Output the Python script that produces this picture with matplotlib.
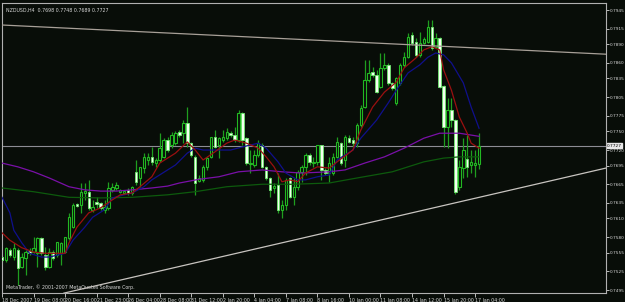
import numpy as np
import matplotlib
matplotlib.use("Agg")
import matplotlib.pyplot as plt
from matplotlib import font_manager

# NZDUSD H4 bars (open, high, low, close)
opens = [0.7548, 0.7543, 0.7559, 0.7548, 0.7559, 0.7532, 0.7546, 0.7558, 0.7556, 0.7554,
         0.7579, 0.7551, 0.7532, 0.7556, 0.7551, 0.7554, 0.7556, 0.7579, 0.7596, 0.7633,
         0.7632, 0.7651, 0.7653, 0.7624, 0.7636, 0.7635, 0.7624, 0.7627, 0.7656, 0.7659,
         0.7653, 0.7651, 0.7656, 0.7651, 0.7685, 0.7675, 0.7691, 0.7704, 0.7709, 0.7699,
         0.7704, 0.7709, 0.7736, 0.7728, 0.7731, 0.7749, 0.7747, 0.7763, 0.7731, 0.7709,
         0.7670, 0.7672, 0.7693, 0.7709, 0.7741, 0.7728, 0.7736, 0.7739, 0.7747, 0.7744,
         0.7736, 0.7780, 0.7739, 0.7698, 0.7696, 0.7712, 0.7728, 0.7693, 0.7675, 0.7659,
         0.7664, 0.7624, 0.7632, 0.7675, 0.7644, 0.7661, 0.7685, 0.7693, 0.7712, 0.7699,
         0.7701, 0.7728, 0.7688, 0.7683, 0.7683, 0.7709, 0.7731, 0.7704, 0.7739, 0.7736,
         0.7731, 0.7760, 0.7789, 0.7833, 0.7845, 0.7841, 0.7821, 0.7852, 0.7857, 0.7828,
         0.7796, 0.7828, 0.7857, 0.7869, 0.7905, 0.7894, 0.7873, 0.7892, 0.7894, 0.7918,
         0.7886, 0.7900, 0.7823, 0.7757, 0.7784, 0.7768, 0.7661, 0.7691, 0.7706, 0.7696,
         0.7696, 0.7698]
highs = [0.7551, 0.7564, 0.7563, 0.7571, 0.7563, 0.7554, 0.7559, 0.7563, 0.7580, 0.7580,
         0.7580, 0.7564, 0.7563, 0.7559, 0.7572, 0.7572, 0.7580, 0.7619, 0.7635, 0.7635,
         0.7667, 0.7667, 0.7672, 0.7640, 0.7644, 0.7636, 0.7640, 0.7669, 0.7667, 0.7669,
         0.7657, 0.7656, 0.7659, 0.7662, 0.7704, 0.7693, 0.7715, 0.7715, 0.7725, 0.7707,
         0.7747, 0.7739, 0.7741, 0.7749, 0.7751, 0.7752, 0.7768, 0.7789, 0.7733, 0.7712,
         0.7680, 0.7696, 0.7709, 0.7741, 0.7752, 0.7741, 0.7752, 0.7755, 0.7751, 0.7757,
         0.7784, 0.7781, 0.7741, 0.7720, 0.7720, 0.7736, 0.7731, 0.7694, 0.7677, 0.7667,
         0.7683, 0.7640, 0.7675, 0.7677, 0.7675, 0.7688, 0.7696, 0.7715, 0.7715, 0.7709,
         0.7728, 0.7728, 0.7691, 0.7709, 0.7715, 0.7741, 0.7733, 0.7744, 0.7744, 0.7741,
         0.7763, 0.7792, 0.7865, 0.7865, 0.7853, 0.7849, 0.7876, 0.7876, 0.7860, 0.7829,
         0.7837, 0.7860, 0.7878, 0.7908, 0.7910, 0.7900, 0.7910, 0.7902, 0.7929, 0.7929,
         0.7908, 0.7902, 0.7824, 0.7804, 0.7804, 0.7770, 0.7704, 0.7739, 0.7744, 0.7720,
         0.7720, 0.7748]
lows = [0.7540, 0.7540, 0.7548, 0.7543, 0.7503, 0.7530, 0.7519, 0.7551, 0.7554, 0.7532,
        0.7551, 0.7527, 0.7530, 0.7543, 0.7548, 0.7535, 0.7554, 0.7575, 0.7595, 0.7628,
        0.7619, 0.7640, 0.7624, 0.7620, 0.7627, 0.7624, 0.7619, 0.7624, 0.7653, 0.7656,
        0.7651, 0.7649, 0.7648, 0.7648, 0.7664, 0.7661, 0.7683, 0.7696, 0.7696, 0.7693,
        0.7701, 0.7707, 0.7717, 0.7723, 0.7728, 0.7741, 0.7731, 0.7725, 0.7709, 0.7648,
        0.7669, 0.7669, 0.7688, 0.7707, 0.7723, 0.7707, 0.7733, 0.7736, 0.7741, 0.7733,
        0.7733, 0.7728, 0.7696, 0.7683, 0.7693, 0.7709, 0.7691, 0.7672, 0.7644, 0.7651,
        0.7619, 0.7611, 0.7624, 0.7643, 0.7632, 0.7656, 0.7669, 0.7680, 0.7696, 0.7693,
        0.7696, 0.7672, 0.7680, 0.7669, 0.7680, 0.7707, 0.7696, 0.7693, 0.7731, 0.7725,
        0.7725, 0.7757, 0.7788, 0.7829, 0.7837, 0.7812, 0.7820, 0.7849, 0.7824, 0.7816,
        0.7792, 0.7824, 0.7853, 0.7868, 0.7889, 0.7869, 0.7869, 0.7890, 0.7892, 0.7881,
        0.7884, 0.7820, 0.7725, 0.7723, 0.7757, 0.7649, 0.7656, 0.7675, 0.7677, 0.7683,
        0.7677, 0.7689]
closes = [0.7543, 0.7563, 0.7551, 0.7563, 0.7530, 0.7548, 0.7556, 0.7554, 0.7563, 0.7579,
          0.7554, 0.7532, 0.7556, 0.7546, 0.7572, 0.7571, 0.7580, 0.7612, 0.7632, 0.7630,
          0.7653, 0.7654, 0.7627, 0.7628, 0.7633, 0.7627, 0.7628, 0.7659, 0.7661, 0.7664,
          0.7656, 0.7654, 0.7651, 0.7661, 0.7669, 0.7693, 0.7709, 0.7709, 0.7701, 0.7704,
          0.7723, 0.7736, 0.7720, 0.7744, 0.7747, 0.7744, 0.7763, 0.7731, 0.7712, 0.7667,
          0.7675, 0.7693, 0.7707, 0.7741, 0.7725, 0.7739, 0.7741, 0.7749, 0.7744, 0.7736,
          0.7780, 0.7736, 0.7699, 0.7699, 0.7712, 0.7731, 0.7693, 0.7675, 0.7656, 0.7662,
          0.7624, 0.7632, 0.7672, 0.7644, 0.7661, 0.7685, 0.7693, 0.7712, 0.7701, 0.7701,
          0.7728, 0.7688, 0.7683, 0.7699, 0.7709, 0.7733, 0.7699, 0.7741, 0.7733, 0.7731,
          0.7760, 0.7788, 0.7833, 0.7844, 0.7841, 0.7813, 0.7852, 0.7857, 0.7828, 0.7820,
          0.7836, 0.7857, 0.7869, 0.7902, 0.7892, 0.7873, 0.7892, 0.7898, 0.7918, 0.7884,
          0.7900, 0.7821, 0.7757, 0.7784, 0.7768, 0.7653, 0.7693, 0.7720, 0.7693, 0.7701,
          0.7699, 0.7727]

# moving averages, sampled at (bar, price)
red_bar = [0, 2, 5, 8, 11, 13, 16, 17, 19, 22, 25, 28, 30, 33, 35, 38, 40, 44, 47, 49, 51,
           54, 57, 59, 62, 65, 67, 69, 71, 73, 75, 77, 80, 83, 85, 89, 91, 94, 97, 100, 102,
           105, 107, 109, 111, 112, 114, 116, 118, 119, 121]
red_ma = [0.7587, 0.7575, 0.7563, 0.7556, 0.7554, 0.7554, 0.7554, 0.7571, 0.7596, 0.7619,
          0.7627, 0.7640, 0.7648, 0.7651, 0.7661, 0.7677, 0.7699, 0.7715, 0.7733, 0.7720,
          0.7704, 0.7717, 0.7731, 0.7736, 0.7731, 0.7723, 0.7709, 0.7693, 0.7669, 0.7672,
          0.7669, 0.7683, 0.7693, 0.7691, 0.7701, 0.7720, 0.7752, 0.7789, 0.7813, 0.7829,
          0.7852, 0.7868, 0.7881, 0.7886, 0.7881, 0.7849, 0.7816, 0.7773, 0.7747, 0.7731,
          0.7723]
blue_bar = [0, 2, 3, 5, 7, 10, 12, 16, 18, 21, 23, 26, 28, 31, 33, 36, 38, 42, 44, 47, 49,
            51, 55, 58, 61, 65, 67, 70, 72, 75, 77, 80, 83, 85, 89, 91, 95, 98, 100, 103,
            106, 108, 110, 112, 114, 117, 119, 121]
blue_ma = [0.7644, 0.7619, 0.7591, 0.7571, 0.7554, 0.7548, 0.7548, 0.7554, 0.7575, 0.7596,
           0.7612, 0.7624, 0.7643, 0.7648, 0.7651, 0.7661, 0.7672, 0.7688, 0.7696, 0.7715,
           0.7723, 0.7720, 0.7720, 0.7720, 0.7725, 0.7731, 0.7723, 0.7701, 0.7683, 0.7672,
           0.7672, 0.7677, 0.7680, 0.7704, 0.7720, 0.7739, 0.7768, 0.7796, 0.7816, 0.7844,
           0.7857, 0.7869, 0.7876, 0.7873, 0.7860, 0.7828, 0.7789, 0.7755]
purple_bar = [0, 4, 8, 12, 17, 21, 25, 29, 33, 38, 42, 45, 50, 55, 60, 66, 71, 76, 83, 87,
              92, 97, 102, 107, 111, 116, 121]
purple_ma = [0.7699, 0.7693, 0.7685, 0.7675, 0.7661, 0.7656, 0.7654, 0.7654, 0.7656, 0.7659,
             0.7662, 0.7667, 0.7673, 0.7677, 0.7685, 0.7688, 0.7685, 0.7683, 0.7685, 0.7688,
             0.7699, 0.7709, 0.7723, 0.7739, 0.7747, 0.7747, 0.7742]
green_bar = [0, 8, 17, 25, 33, 42, 49, 57, 66, 74, 83, 90, 99, 107, 112, 116, 121]
green_ma = [0.7659, 0.7653, 0.7644, 0.7643, 0.7644, 0.7648, 0.7653, 0.7661, 0.7665, 0.7665,
            0.7667, 0.7675, 0.7685, 0.7701, 0.7707, 0.7709, 0.7709]

# hand-drawn trend lines: (bar, price) end points
upper_line_bar = [-0.25, 153.2]
upper_line_price = [0.7921, 0.7874]
lower_line_bar = [15.7, 153.2]
lower_line_price = [0.7490, 0.7691]
bid = 0.7727

x_tick_bars = list(range(0, 121, 8))
x_tick_labels = ["18 Dec 2007", "19 Dec 08:00", "20 Dec 16:00", "21 Dec 23:00",
                 "26 Dec 04:00", "28 Dec 08:00", "31 Dec 12:00", "2 Jan 20:00",
                 "4 Jan 04:00", "7 Jan 08:00", "8 Jan 16:00", "10 Jan 00:00",
                 "11 Jan 08:00", "14 Jan 12:00", "15 Jan 20:00", "17 Jan 04:00"]
y_ticks = [0.7945, 0.7915, 0.7890, 0.7860, 0.7835, 0.7805, 0.7775, 0.7750, 0.7720,
           0.7695, 0.7665, 0.7635, 0.7610, 0.7580, 0.7555, 0.7525, 0.7495]

BG = "#080d08"
FG = "#d8d8d8"
WICK = "#1f9e1f"

names = {f.name for f in font_manager.fontManager.ttflist}
narrow = "Liberation Sans Narrow" if "Liberation Sans Narrow" in names else "DejaVu Sans"
plt.rcParams["font.family"] = [narrow, "DejaVu Sans"]
FS = 4.3 if narrow != "DejaVu Sans" else 3.4
FSY = 3.9 if narrow != "DejaVu Sans" else 3.1

fig = plt.figure(figsize=(6.25, 3.02), dpi=100, facecolor=BG)
ax = fig.add_axes([2 / 625, 9 / 302, 604 / 625, 290 / 302], facecolor=BG)

o = np.array(opens)
h = np.array(highs)
l = np.array(lows)
c = np.array(closes)
idx = np.arange(len(o))
bull = c >= o

ax.vlines(idx, l, h, color=WICK, lw=0.9, zorder=2)
body_lo = np.minimum(o, c)
body_h = np.maximum(np.abs(c - o), 0.00003)
ax.bar(idx[bull], body_h[bull], bottom=body_lo[bull], width=0.62,
       color=BG, edgecolor="#22b822", linewidth=0.8, zorder=3)
ax.bar(idx[~bull], body_h[~bull], bottom=body_lo[~bull], width=0.62,
       color="#f4fff0", edgecolor="#6ee86e", linewidth=0.6, zorder=3)

ax.plot(green_bar, green_ma, color="#0d5a0d", lw=0.9, zorder=4)
ax.plot(purple_bar, purple_ma, color="#7a10a8", lw=0.9, zorder=4)
ax.plot(blue_bar, blue_ma, color="#10108c", lw=0.9, zorder=4)
ax.plot(red_bar, red_ma, color="#9a1010", lw=0.9, zorder=4)

ax.plot(upper_line_bar, upper_line_price, color="#a8a098", lw=0.9, zorder=5)
ax.plot(lower_line_bar, lower_line_price, color="#c8c4c0", lw=0.9, zorder=5)
ax.axhline(bid, color="#8c8c94", lw=0.8, zorder=1)

ax.set_xlim(0.25, 153.2)
ax.set_ylim(0.74902, 0.79563)

for side in ["left", "right", "top", "bottom"]:
    ax.spines[side].set_color("#b0b0b0")
    ax.spines[side].set_linewidth(0.8)

ax.yaxis.tick_right()
ax.set_yticks(y_ticks)
ax.set_yticklabels([f"{v:.4f}" for v in y_ticks])
ax.set_xticks(x_tick_bars)
ax.set_xticklabels(x_tick_labels, ha="left")
ax.tick_params(axis="y", colors=FG, labelsize=FSY, length=2, width=0.6, pad=0.8)
ax.tick_params(axis="x", colors=FG, labelsize=FS, length=3, width=0.6, pad=0.3)
ax.text(153.45, bid, "0.7727", fontsize=FSY, color="black", va="center", ha="left",
        clip_on=False, bbox=dict(facecolor="#e8e8e8", edgecolor="#e8e8e8", pad=0.3))

ax.text(0.006, 0.985, "NZDUSD,H4  0.7698 0.7748 0.7689 0.7727", transform=ax.transAxes,
        fontsize=FS, color=FG, va="top", ha="left")
ax.text(0.006, 0.012, "MetaTrader, \u00a9 2001-2007 MetaQuotes Software Corp.",
        transform=ax.transAxes, fontsize=FS, color=FG, va="bottom", ha="left")

fig.savefig("out.png", dpi=100, facecolor=BG)
